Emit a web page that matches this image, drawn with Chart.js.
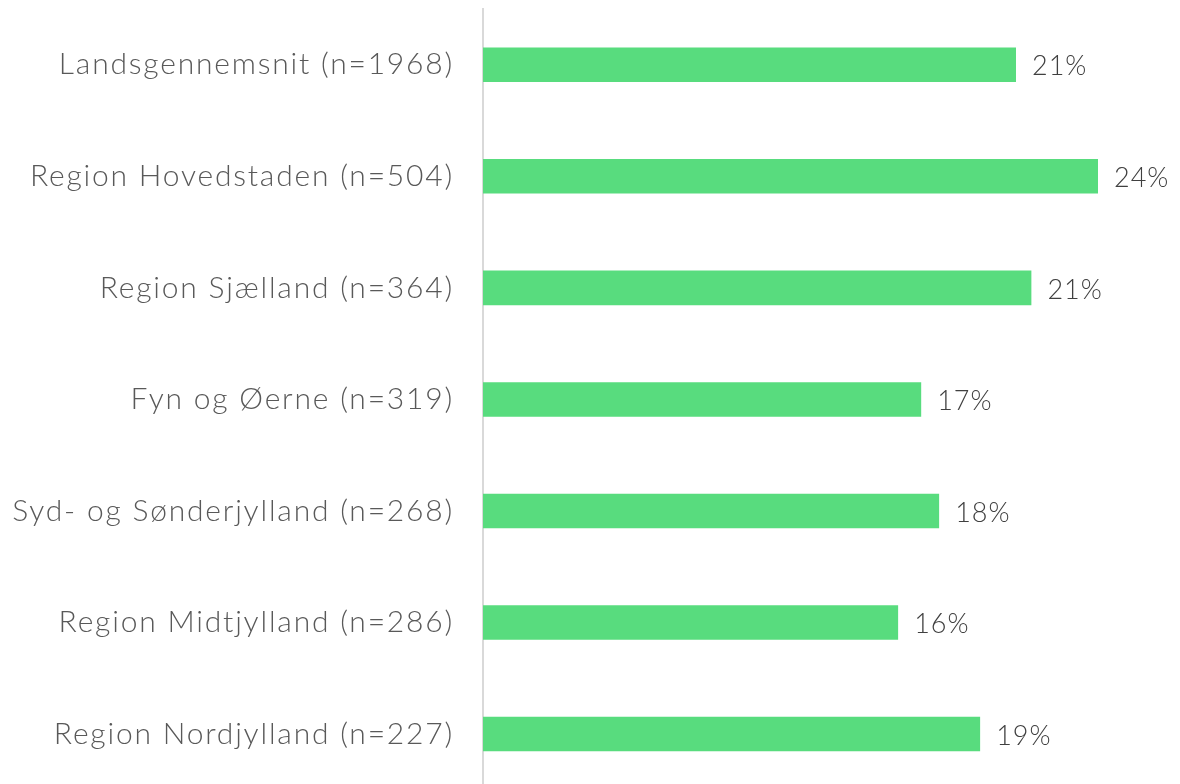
<!DOCTYPE html>
<html>
<head>
<meta charset="utf-8">
<script src="https://cdn.jsdelivr.net/npm/chart.js@4/dist/chart.umd.min.js"></script>
<style>
  html, body { margin: 0; padding: 0; background: #fff; overflow: hidden; }
  #wrap { position: relative; width: 1180px; height: 790px; }
</style>
</head>
<body>
<div id="wrap"><canvas id="myChart"></canvas></div>
<script>
// data
const regions = [
  'Landsgennemsnit (n=1968)',
  'Region Hovedstaden (n=504)',
  'Region Sjælland (n=364)',
  'Fyn og Øerne (n=319)',
  'Syd- og Sønderjylland (n=268)',
  'Region Midtjylland (n=286)',
  'Region Nordjylland (n=227)'
];
const shares = [20.8, 24.0, 21.4, 17.1, 17.8, 16.2, 19.4];

const FONT = "Lato, 'Open Sans', sans-serif";

// wider letter spacing, the original font runs wide
const spacing = {
  id: 'spacing',
  beforeDraw(chart) {
    chart.ctx.letterSpacing = '1.8px';
  }
};

// value labels at the end of each bar
const barLabels = {
  id: 'barLabels',
  afterDatasetsDraw(chart) {
    const ctx = chart.ctx;
    const meta = chart.getDatasetMeta(0);
    ctx.save();
    ctx.letterSpacing = '1px';
    ctx.font = '300 27px ' + FONT;
    ctx.fillStyle = '#404040';
    ctx.textAlign = 'left';
    ctx.textBaseline = 'middle';
    meta.data.forEach((bar, i) => {
      ctx.fillText(Math.round(shares[i]) + '%', bar.x + 16, bar.y + 2);
    });
    ctx.restore();
  }
};

var ctx = document.getElementById('myChart').getContext('2d');
var myChart = new Chart(ctx, {
  type: 'bar',
  data: {
    labels: regions,
    datasets: [{
      data: shares,
      backgroundColor: '#58DC7E',
      borderWidth: 0,
      barPercentage: 0.31,
      categoryPercentage: 1
    }]
  },
  options: {
    indexAxis: 'y',
    responsive: true,
    maintainAspectRatio: false,
    animation: false,
    layout: { padding: { top: 9, bottom: 0, left: 0, right: 0 } },
    plugins: {
      legend: { display: false },
      tooltip: { enabled: false }
    },
    scales: {
      x: {
        display: false,
        min: 0,
        max: 27.2
      },
      y: {
        grid: { display: true, color: 'rgba(0,0,0,0)', drawTicks: true, tickLength: 29 },
        border: { display: true, color: '#d9d9d9', width: 2 },
        ticks: {
          color: '#595959',
          padding: 0,
          font: { family: FONT, size: 30, weight: '300', lineHeight: 0.01 }
        },
        afterFit: (scale) => { scale.width = 483; }
      }
    }
  },
  plugins: [spacing, barLabels]
});
</script>
</body>
</html>
